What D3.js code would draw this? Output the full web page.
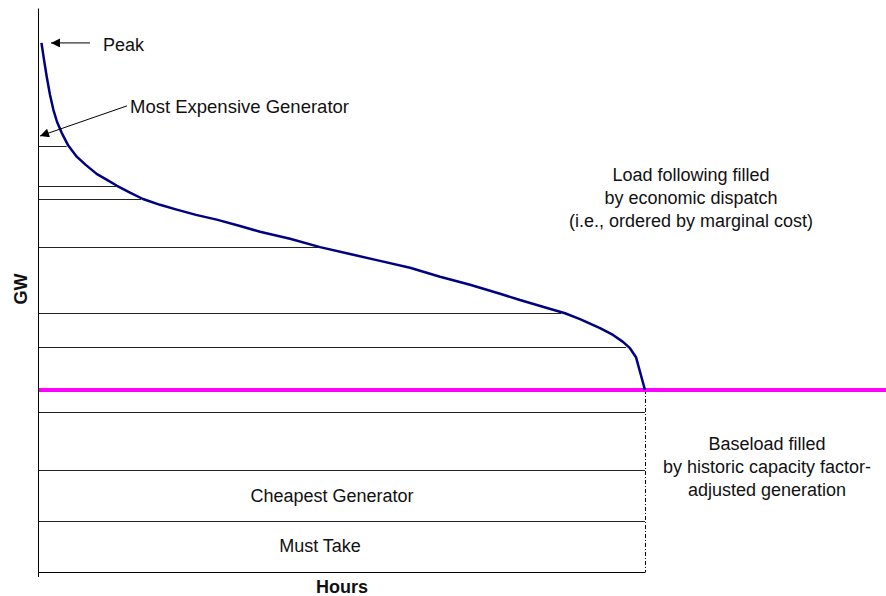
<!DOCTYPE html>
<html>
<head>
<meta charset="utf-8">
<script src="https://cdn.jsdelivr.net/npm/d3@7/dist/d3.min.js"></script>
<style>
  body { margin: 0; background: #fff; }
  text { font-family: Arial, "Liberation Sans", sans-serif; font-size: 18px; fill: #111; }
</style>
</head>
<body>
<script>
// load duration curve: hours of the year vs GW
var hours = [50, 87, 126, 173, 221, 274, 342, 437, 559, 693, 851, 996, 1140, 1328, 1515, 1761, 2002, 2280, 2579, 2915, 3204, 3637, 4070, 4503, 4936, 5369, 5802, 6235, 6668, 6956, 7346, 7606, 7822, 8111, 8298, 8442, 8543, 8630, 8760];
var load = [100, 96.8, 93.6, 90.2, 87.4, 85.1, 83.0, 80.6, 78.5, 76.9, 75.2, 74.1, 73.0, 71.7, 70.5, 69.4, 68.5, 67.5, 66.6, 65.4, 64.3, 63.0, 61.4, 60.1, 58.8, 57.5, 55.8, 54.3, 52.6, 51.4, 49.9, 48.9, 47.8, 46.1, 44.8, 43.5, 42.3, 40.6, 34.4];

// generator block boundaries (GW)
var dispatchTiers = [80.5, 72.9, 70.5, 61.4, 49.0, 42.6];
var baseload = 34.4;
var baseTiers = [30.3, 19.2, 9.7];

var loadText = ["Load following filled", "by economic dispatch", "(i.e., ordered by marginal cost)"];
var baseText = ["Baseload filled", "by historic capacity factor-", "adjusted generation"];

var width = 886,
    height = 596;

var svg = d3.select("body").append("svg")
    .attr("width", width)
    .attr("height", height);

var x = d3.scaleLinear().domain([0, 8760]).range([38, 645]);
var y = d3.scaleLinear().domain([0, 106.6]).range([572, 8]);

var pts = hours.map(function (h, i) { return { h: h, v: load[i] }; });

// hour where the curve drops to a given level
function crossing(level) {
    for (var i = 1; i < pts.length; i++) {
        if (pts[i].v <= level) {
            var a = pts[i - 1], b = pts[i];
            return a.h + (a.v - level) / (a.v - b.v) * (b.h - a.h);
        }
    }
    return 8760;
}

var defs = svg.append("defs");
defs.append("marker")
    .attr("id", "head")
    .attr("viewBox", "0 0 10 10")
    .attr("refX", 10).attr("refY", 5)
    .attr("markerWidth", 12).attr("markerHeight", 9)
    .attr("markerUnits", "userSpaceOnUse")
    .attr("orient", "auto")
    .append("path").attr("d", "M0,0L10,5L0,10Z").attr("fill", "#000");

// tier lines above baseload, ending at the curve
svg.selectAll(".tier")
    .data(dispatchTiers)
    .enter().append("line")
    .attr("class", "tier")
    .attr("x1", x(0))
    .attr("x2", function (d) { return x(crossing(d)) - 2; })
    .attr("y1", function (d) { return Math.round(y(d)) + 0.5; })
    .attr("y2", function (d) { return Math.round(y(d)) + 0.5; })
    .style("stroke", "#222")
    .style("stroke-width", 1);

svg.selectAll(".base")
    .data(baseTiers)
    .enter().append("line")
    .attr("class", "base")
    .attr("x1", x(0))
    .attr("x2", x(8760))
    .attr("y1", function (d) { return Math.round(y(d)) + 0.5; })
    .attr("y2", function (d) { return Math.round(y(d)) + 0.5; })
    .style("stroke", "#222")
    .style("stroke-width", 1);

// dash-dot end of year
svg.append("line")
    .attr("x1", x(8760) + 0.5).attr("x2", x(8760) + 0.5)
    .attr("y1", y(baseload)).attr("y2", y(0))
    .style("stroke", "#000")
    .style("stroke-width", 1)
    .style("stroke-dasharray", "4,2,1,2");

// axes
svg.append("g")
    .attr("transform", "translate(" + x(0) + ",0)")
    .call(d3.axisLeft(y).tickValues([]).tickSizeOuter(0));
svg.append("g")
    .attr("transform", "translate(0," + y(0) + ")")
    .call(d3.axisBottom(x).tickValues([0]).tickSize(5).tickFormat("").tickSizeOuter(0));

// baseload level
svg.append("line")
    .attr("x1", x(0) + 1).attr("x2", width)
    .attr("y1", y(baseload)).attr("y2", y(baseload))
    .style("stroke", "#ff00ff")
    .style("stroke-width", 4);

var line = d3.line()
    .x(function (d) { return x(d.h); })
    .y(function (d) { return y(d.v); });

svg.append("path")
    .datum(pts)
    .attr("d", line)
    .attr("fill", "none")
    .style("stroke", "#000080")
    .style("stroke-width", 2.5)
    .style("stroke-linejoin", "round");

// annotations
svg.append("line")
    .attr("x1", x(750)).attr("y1", y(100))
    .attr("x2", x(188)).attr("y2", y(100))
    .style("stroke", "#000").style("stroke-width", 1)
    .attr("marker-end", "url(#head)");
svg.append("text")
    .attr("x", x(750) + 13).attr("y", y(100) + 8)
    .text("Peak");

svg.append("line")
    .attr("x1", x(1284)).attr("y1", y(88.1))
    .attr("x2", x(29)).attr("y2", y(82.4))
    .style("stroke", "#000").style("stroke-width", 1)
    .attr("marker-end", "url(#head)");
svg.append("text")
    .attr("x", x(1284) + 3).attr("y", y(88.1) + 7)
    .style("font-size", "18.5px")
    .text("Most Expensive Generator");

svg.selectAll(".lt")
    .data(loadText)
    .enter().append("text")
    .attr("x", 691)
    .attr("y", function (d, i) { return 181 + i * 23; })
    .attr("text-anchor", "middle")
    .text(function (d) { return d; });

svg.selectAll(".bt")
    .data(baseText)
    .enter().append("text")
    .attr("x", 767)
    .attr("y", function (d, i) { return 450 + i * 23; })
    .attr("text-anchor", "middle")
    .text(function (d) { return d; });

svg.append("text")
    .attr("x", 332).attr("y", (y(baseTiers[1]) + y(baseTiers[2])) / 2 + 6)
    .attr("text-anchor", "middle")
    .text("Cheapest Generator");
svg.append("text")
    .attr("x", 320).attr("y", (y(baseTiers[2]) + y(0)) / 2 + 6)
    .attr("text-anchor", "middle")
    .text("Must Take");

svg.append("text")
    .attr("transform", "translate(27,289) rotate(-90)")
    .attr("text-anchor", "middle")
    .style("font-weight", "bold")
    .text("GW");
svg.append("text")
    .attr("x", 342).attr("y", 593)
    .attr("text-anchor", "middle")
    .style("font-weight", "bold")
    .text("Hours");
</script>
</body>
</html>
